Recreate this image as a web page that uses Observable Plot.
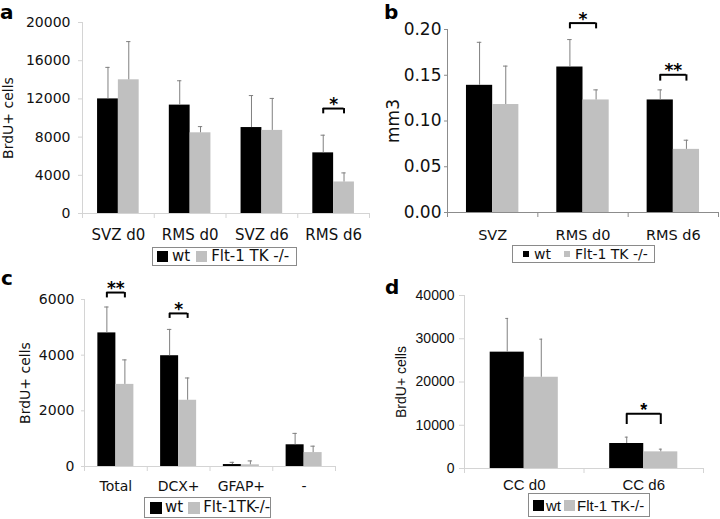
<!DOCTYPE html>
<html><head><meta charset="utf-8">
<script src="https://cdn.jsdelivr.net/npm/d3@7"></script>
<script src="https://cdn.jsdelivr.net/npm/@observablehq/plot@0.6"></script>
<style>
body{margin:0;background:#fff;}
#fig{position:relative;width:720px;height:519px;overflow:hidden;background:#fff;}
.panel{position:absolute;}
.letter{position:absolute;font-family:"DejaVu Sans";font-weight:bold;font-size:20px;line-height:1.2;color:#000;}
.legend{position:absolute;box-sizing:border-box;border:1px solid #8a8a8a;background:#fff;display:flex;align-items:center;white-space:nowrap;color:#111;line-height:1;}
.sw{display:inline-block;flex:none;}
</style></head><body><div id="fig"></div><script>
// ---- Panel a ----
const catsA = ["SVZ d0", "RMS d0", "SVZ d6", "RMS d6"];
const wtA = [12000, 11350, 9000, 6350];
const wtSdA = [3300, 2550, 3350, 1850];
const fltA = [14000, 8450, 8700, 3300];
const fltSdA = [4000, 650, 3350, 950];
const sigA = [{cat: "RMS d6", label: "*", level: 10990, leg: 10435}];
const ticksA = [0, 4000, 8000, 12000, 16000, 20000];

// ---- Panel b ----
const catsB = ["SVZ", "RMS d0", "RMS d6"];
const wtB = [0.139, 0.159, 0.123];
const wtSdB = [0.047, 0.030, 0.011];
const fltB = [0.118, 0.123, 0.069];
const fltSdB = [0.042, 0.011, 0.010];
const sigB = [{cat: "RMS d0", label: "*", level: 0.207, leg: 0.2007},
              {cat: "RMS d6", label: "**", level: 0.1505, leg: 0.1436}];
const ticksB = [0, 0.05, 0.10, 0.15, 0.20];

// ---- Panel c ----
const catsC = ["Total", "DCX+", "GFAP+", "-"];
const wtC = [4800, 3980, 70, 780];
const wtSdC = [930, 945, 80, 410];
const fltC = [2950, 2380, 60, 500];
const fltSdC = [880, 800, 140, 230];
const sigC = [{cat: "Total", label: "**", level: 6250, leg: 6057},
              {cat: "DCX+", label: "*", level: 5500, leg: 5320}];
const ticksC = [0, 2000, 4000, 6000];

// ---- Panel d ----
const catsD = ["CC d0", "CC d6"];
const wtD = [26900, 5780];
const wtSdD = [7800, 1470];
const fltD = [21100, 3850];
const fltSdD = [8800, 620];
const sigD = [{cat: "CC d6", label: "*", level: 12640, leg: 10170}];
const ticksD = [0, 10000, 20000, 30000, 40000];

const seriesColors = {wt: "#000000", flt: "#c0c0c0"};

function buildRows(cats, wt, wtSd, flt, fltSd) {
  return cats.flatMap((c, i) => [
    {i, cat: c, series: "wt", value: wt[i], sd: wtSd[i]},
    {i, cat: c, series: "flt", value: flt[i], sd: fltSd[i]}
  ]);
}

function makePanel(cfg) {
  const data = buildRows(cfg.cats, cfg.wt, cfg.wtSd, cfg.flt, cfg.fltSd);
  const n = cfg.cats.length;
  const bw = cfg.barFrac;
  const cap = cfg.cap;
  const left = d => d.i + 0.5 - (d.series === "wt" ? bw : 0);
  const center = d => d.i + 0.5 + (d.series === "wt" ? -bw / 2 : bw / 2);
  const sig = cfg.sig.map(s => ({...s, i: cfg.cats.indexOf(s.cat)}));
  const legs = sig.flatMap(s => [
    {xv: s.i + 0.5 - bw / 2, level: s.level, leg: s.leg},
    {xv: s.i + 0.5 + bw / 2, level: s.level, leg: s.leg}
  ]);
  return Plot.plot({
    width: cfg.width, height: cfg.height,
    marginLeft: cfg.ml, marginRight: cfg.mr, marginTop: cfg.mt, marginBottom: cfg.mb,
    style: {fontFamily: cfg.font, fontSize: cfg.yFont + "px", color: "#111", background: "transparent", overflow: "visible"},
    x: {domain: [0, n]},
    y: {domain: cfg.yDomain},
    marks: [
      Plot.ruleY([cfg.yDomain[0]], {stroke: cfg.axisColor}),
      Plot.ruleX([0], {stroke: cfg.axisColor}),
      Plot.axisX({ticks: d3.range(n + 1), tickFormat: () => "", tickSize: 5, stroke: cfg.axisColor, label: null}),
      Plot.axisX({ticks: cfg.cats.map((c, i) => i + 0.5), tickFormat: v => cfg.cats[Math.floor(v)],
        tickSize: 0, tickPadding: cfg.xPad, fontSize: cfg.xFont, label: null}),
      Plot.axisY({ticks: cfg.ticks, tickFormat: cfg.fmt, tickSize: cfg.yTick, tickPadding: cfg.yPad,
        stroke: cfg.axisColor, fontSize: cfg.yFont,
        label: cfg.yLabel, labelAnchor: "center", labelOffset: cfg.labelOffset, labelArrow: "none"}),
      Plot.rect(data, {x1: left, x2: d => left(d) + bw, y1: 0, y2: "value", fill: d => seriesColors[d.series]}),
      Plot.ruleX(data, {x: center, y1: "value", y2: d => d.value + d.sd, stroke: cfg.errColor}),
      Plot.ruleY(data, {x1: d => center(d) - cap, x2: d => center(d) + cap, y: d => d.value + d.sd, stroke: cfg.errColor}),
      Plot.ruleY(sig, {x1: d => d.i + 0.5 - bw / 2, x2: d => d.i + 0.5 + bw / 2, y: "level", stroke: "#000", strokeWidth: 2}),
      Plot.ruleX(legs, {x: "xv", y1: "leg", y2: "level", stroke: "#000", strokeWidth: 2}),
      Plot.text(sig, {x: d => d.i + 0.5, y: "level", text: "label", dy: -4, fontSize: cfg.starFont, fontWeight: "bold", fill: "#000"})
    ]
  });
}

const fig = document.getElementById("fig");
function place(node, left, top) {
  const div = document.createElement("div");
  div.className = "panel";
  div.style.left = left + "px";
  div.style.top = top + "px";
  div.appendChild(node);
  fig.appendChild(div);
}
function letter(t, left, top) {
  const d = document.createElement("div");
  d.className = "letter";
  d.textContent = t;
  d.style.left = left + "px";
  d.style.top = top + "px";
  fig.appendChild(d);
}
function legend(o) {
  const d = document.createElement("div");
  d.className = "legend";
  Object.assign(d.style, {left: o.left + "px", top: o.top + "px", width: o.width + "px", height: o.height + "px",
    fontFamily: o.font, fontSize: o.size + "px", paddingLeft: o.pad + "px"});
  const items = [["wt", seriesColors.wt, o.wtLabel], ["flt", seriesColors.flt, o.fltLabel]];
  items.forEach(([k, col, lab], j) => {
    const sw = document.createElement("span");
    sw.className = "sw";
    Object.assign(sw.style, {width: o.sw + "px", height: o.sw + "px", background: col,
      marginLeft: (j ? o.gap : 0) + "px", marginRight: o.swGap + "px"});
    const tx = document.createElement("span");
    tx.textContent = lab;
    d.appendChild(sw); d.appendChild(tx);
  });
  fig.appendChild(d);
}

const dv = "DejaVu Sans";
const ar = "Liberation Sans";

place(makePanel({cats: catsA, wt: wtA, wtSd: wtSdA, flt: fltA, fltSd: fltSdA, sig: sigA,
  width: 375, height: 245, ml: 82, mr: 6, mt: 22, mb: 32, yDomain: [0, 20000], ticks: ticksA, fmt: d3.format("d"),
  font: dv, xFont: 15, yFont: 14, xPad: 16, yTick: 4, yPad: 8, yLabel: "BrdU+ cells", labelOffset: 79,
  axisColor: "#d4d4d4", errColor: "#808080", barFrac: 0.29, cap: 0.03, starFont: 17}), 0, 0);

place(makePanel({cats: catsB, wt: wtB, wtSd: wtSdB, flt: fltB, fltSd: fltSdB, sig: sigB,
  width: 360, height: 245, ml: 87, mr: 2, mt: 29, mb: 33, yDomain: [0, 0.2], ticks: ticksB, fmt: d3.format(".2f"),
  font: dv, xFont: 14.5, yFont: 17, xPad: 17, yTick: 3, yPad: 3, yLabel: "mm3", labelOffset: 61,
  axisColor: "#8c8c8c", errColor: "#808080", barFrac: 0.29, cap: 0.025, starFont: 17}), 360, 0);

place(makePanel({cats: catsC, wt: wtC, wtSd: wtSdC, flt: fltC, fltSd: fltSdC, sig: sigC,
  width: 360, height: 235, ml: 84, mr: 25, mt: 39, mb: 29, yDomain: [0, 6000], ticks: ticksC, fmt: d3.format("d"),
  font: dv, xFont: 14, yFont: 14, xPad: 15, yTick: 3, yPad: 7, yLabel: "BrdU+ cells", labelOffset: 64,
  axisColor: "#d4d4d4", errColor: "#808080", barFrac: 0.287, cap: 0.035, starFont: 17}), 0, 260);

place(makePanel({cats: catsD, wt: wtD, wtSd: wtSdD, flt: fltD, fltSd: fltSdD, sig: sigD,
  width: 360, height: 235, ml: 104, mr: 17, mt: 35, mb: 27, yDomain: [0, 40000], ticks: ticksD, fmt: d3.format("d"),
  font: ar, xFont: 15, yFont: 14, xPad: 11, yTick: 5, yPad: 5, yLabel: "BrdU+ cells", labelOffset: 68,
  axisColor: "#d4d4d4", errColor: "#808080", barFrac: 0.285, cap: 0.012, starFont: 18}), 360, 260);

letter("a", 0, 0);
letter("b", 384, 0);
letter("c", 1, 266);
letter("d", 385, 275);

legend({left: 152, top: 247, width: 145, height: 19, font: dv, size: 15, pad: 4, sw: 11, swGap: 4, gap: 6, wtLabel: "wt", fltLabel: "Flt-1 TK -/-"});
legend({left: 512, top: 245, width: 143, height: 18, font: dv, size: 14, pad: 10, sw: 6, swGap: 5, gap: 13, wtLabel: "wt", fltLabel: "Flt-1 TK -/-"});
legend({left: 144, top: 497, width: 127, height: 21, font: dv, size: 15, pad: 5, sw: 12, swGap: 3, gap: 5, wtLabel: "wt", fltLabel: "Flt-1TK-/-"});
legend({left: 528, top: 493, width: 122, height: 24, font: ar, size: 15, pad: 4, sw: 11, swGap: 2, gap: 3, wtLabel: "wt", fltLabel: "Flt-1 TK-/-"});
</script></body></html>
